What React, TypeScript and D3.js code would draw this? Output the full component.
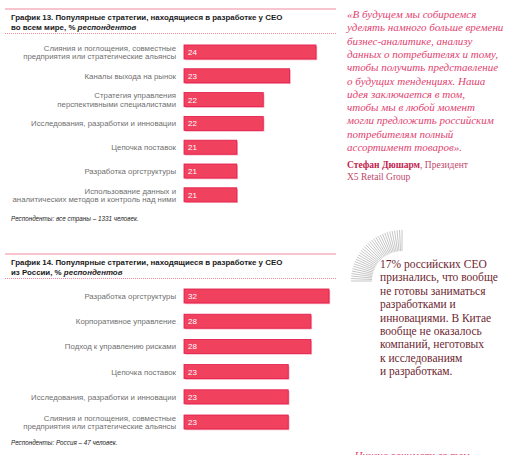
import React from "react";
import * as d3 from "d3";

// --- data ---
const worldCats = [
  ["Слияния и поглощения, совместные", "предприятия или стратегические альянсы"],
  ["Каналы выхода на рынок"],
  ["Стратегия управления", "перспективными специалистами"],
  ["Исследования, разработки и инновации"],
  ["Цепочка поставок"],
  ["Разработка оргструктуры"],
  ["Использование данных и", "аналитических методов и контроль над ними"],
];
const worldVals = [24, 23, 22, 22, 21, 21, 21];

const russiaCats = [
  ["Разработка оргструктуры"],
  ["Корпоративное управление"],
  ["Подход к управлению рисками"],
  ["Цепочка поставок"],
  ["Исследования, разработки и инновации"],
  ["Слияния и поглощения, совместные", "предприятия или стратегические альянсы"],
];
const russiaVals = [32, 28, 28, 23, 23, 23];

const quoteLines = [
  "«В будущем мы собираемся",
  "уделять намного больше времени",
  "бизнес-аналитике, анализу",
  "данных о потребителях и тому,",
  "чтобы получить представление",
  "о будущих тенденциях. Наша",
  "идея заключается в том,",
  "чтобы мы в любой момент",
  "могли предложить российским",
  "потребителям полный",
  "ассортимент товаров».",
];
const noteLines = [
  "17% российских CEO",
  "признались, что вообще",
  "не готовы заниматься",
  "разработками и",
  "инновациями. В Китае",
  "вообще не оказалось",
  "компаний, неготовых",
  "к исследованиям",
  "и разработкам.",
];

const SANS = "'Liberation Sans', Arial, sans-serif";
const SERIF = "'Liberation Serif', 'DejaVu Serif', serif";
const BAR = "#f0425f";
const BAR_EDGE = "#e0194a";
const BAR_SHADE = "#f8a9b8";
const LABEL = "#6f6f6f";

function Bars({ cats, vals, x, y }) {
  const idx = vals.map((_, i) => i);
  return (
    <g>
      {idx.map((i) => {
        const top = y(i);
        const h = y.bandwidth();
        const cy = top + h / 2;
        const x0 = x.range()[0];
        const w = x(vals[i]) - x0;
        const lines = cats[i];
        return (
          <g key={i}>
            <rect x={x0 + 1.2} y={top + 1.2} width={w} height={h} fill={BAR_SHADE} />
            <rect x={x0} y={top} width={w} height={h} fill={BAR} stroke={BAR_EDGE} strokeWidth={0.8} />
            <text x={x0 + 4} y={cy + 3} fill="#fff" fontSize={8} fontFamily={SANS}>
              {vals[i]}
            </text>
            {lines.map((ln, j) => (
              <text
                key={j}
                x={176}
                y={cy + 3 + (j - (lines.length - 1) / 2) * 8.6}
                textAnchor="end"
                fill={LABEL}
                fontSize={7.8}
                fontFamily={SANS}
              >
                {ln}
              </text>
            ))}
          </g>
        );
      })}
    </g>
  );
}

export default function App() {
  const x1 = d3.scaleLinear().domain([19, 24]).range([184, 316]);
  const y1 = d3.scaleBand().domain(d3.range(worldVals.length)).range([35.2, 211.6]).padding(0.41);
  const x2 = d3.scaleLinear().domain([0, 32]).range([184, 329]);
  const y2 = d3.scaleBand().domain(d3.range(russiaVals.length)).range([277.8, 440.2]).padding(0.444);

  const cx = 402, cyA = 281;
  const rays = d3.range(0, 33).map((k) => (Math.PI * (1 + (k / 32) * 0.5)));

  return (
    <div style={{ position: "fixed", left: 0, top: 0 }}>
      <svg width={512} height={455} style={{ display: "block", background: "#fff" }}>
        {/* section 1 */}
        <line x1={5} x2={336} y1={9} y2={9} stroke="#f0899c" strokeWidth={1} />
        <text x={11} y={20} fontSize={7.9} fontWeight="bold" fontFamily={SANS} fill="#1a1a1a">
          График 13. Популярные стратегии, находящиеся в разработке у CEO
        </text>
        <text x={11} y={29.5} fontSize={7.9} fontWeight="bold" fontFamily={SANS} fill="#1a1a1a">
          во всем мире, % <tspan fontStyle="italic">респондентов</tspan>
        </text>
        <line x1={5} x2={336} y1={33.5} y2={33.5} stroke="#f0899c" strokeWidth={1} strokeDasharray="1 1" />
        <Bars cats={worldCats} vals={worldVals} x={x1} y={y1} />
        <text x={11} y={221} fontSize={6.3} fontStyle="italic" fontFamily={SANS} fill="#222">
          Респонденты: все страны – 1331 человек.
        </text>

        {/* section 2 */}
        <line x1={5} x2={336} y1={254} y2={254} stroke="#f0899c" strokeWidth={1} />
        <text x={11} y={265} fontSize={7.9} fontWeight="bold" fontFamily={SANS} fill="#1a1a1a">
          График 14. Популярные стратегии, находящиеся в разработке у CEO
        </text>
        <text x={11} y={274.5} fontSize={7.9} fontWeight="bold" fontFamily={SANS} fill="#1a1a1a">
          из России, % <tspan fontStyle="italic">респондентов</tspan>
        </text>
        <line x1={5} x2={336} y1={278.5} y2={278.5} stroke="#f0899c" strokeWidth={1} strokeDasharray="1 1" />
        <Bars cats={russiaCats} vals={russiaVals} x={x2} y={y2} />
        <text x={11} y={445} fontSize={6.3} fontStyle="italic" fontFamily={SANS} fill="#222">
          Респонденты: Россия – 47 человек.
        </text>

        {/* quote */}
        {quoteLines.map((ln, i) => (
          <text key={i} x={347} y={18 + i * 13.3} fontSize={11} fontStyle="italic" fontFamily={SERIF} fill="#e2416f">
            {ln}
          </text>
        ))}
        <text x={347} y={167.5} fontSize={9.5} fontFamily={SERIF} fill="#c0476a">
          <tspan fontWeight="bold" fill="#c3234c">Стефан Дюшарм</tspan>, Президент
        </text>
        <text x={347} y={179.5} fontSize={9.5} fontFamily={SERIF} fill="#c0476a">
          X5 Retail Group
        </text>

        {/* decorative arc */}
        {rays.map((a, i) => (
          <line
            key={i}
            x1={cx + 30 * Math.cos(a)}
            y1={cyA + 30 * Math.sin(a)}
            x2={cx + 51 * Math.cos(a)}
            y2={cyA + 51 * Math.sin(a)}
            stroke="#a0a0a0"
            strokeWidth={0.6}
          />
        ))}

        {noteLines.map((ln, i) => (
          <text key={i} x={380} y={268 + i * 13.4} fontSize={11.5} fontFamily={SERIF} fill="#6e1f30">
            {ln}
          </text>
        ))}

        <text x={349} y={459} fontSize={11} fontStyle="italic" fontFamily={SERIF} fill="#e2416f">
          «Нужно заниматься тем
        </text>
      </svg>
    </div>
  );
}
